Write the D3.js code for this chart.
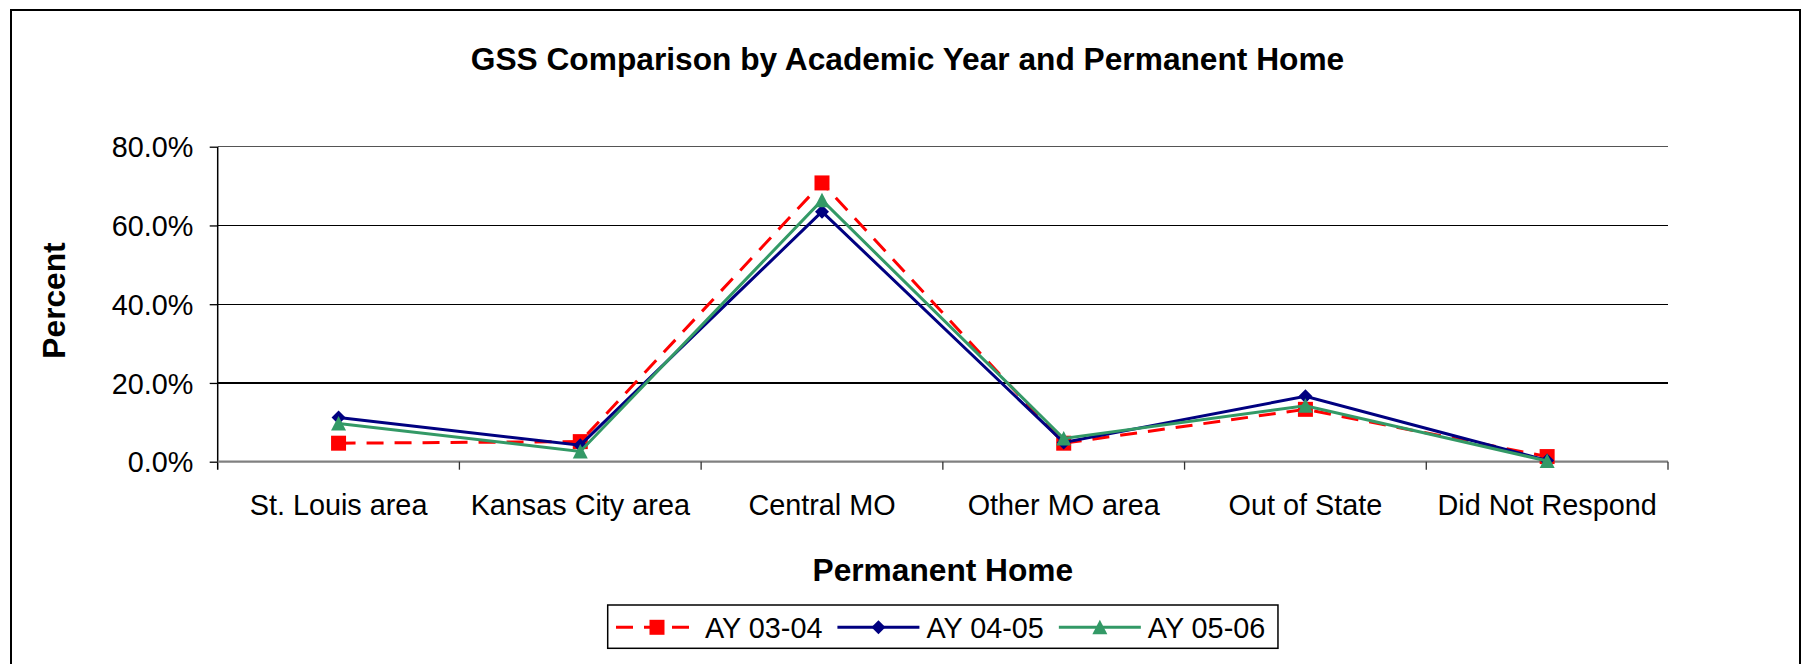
<!DOCTYPE html>
<meta charset="utf-8">
<style>

body {
  margin: 0;
  background: #fff;
}

svg text {
  font-family: "Liberation Sans", Arial, Helvetica, sans-serif;
  fill: #000;
}

.tick text, .cat-label, .legend text {
  font-size: 28.8px;
}

.axis-title {
  font-size: 31.7px;
  font-weight: bold;
}

.series path.line {
  fill: none;
  stroke-width: 3px;
}

</style>
<body>
<script src="https://d3js.org/d3.v7.min.js"></script>
<script>

// data
var categories = ["St. Louis area", "Kansas City area", "Central MO", "Other MO area", "Out of State", "Did Not Respond"];
var ay0304 = [0.047, 0.051, 0.708, 0.047, 0.133, 0.013];
var ay0405 = [0.112, 0.042, 0.635, 0.049, 0.166, 0.003];
var ay0506 = [0.097, 0.026, 0.664, 0.059, 0.142, 0.002];
var seriesNames = ["AY 03-04", "AY 04-05", "AY 05-06"];
var yTicks = [0, 0.2, 0.4, 0.6, 0.8];

var W = 1806, H = 664;
var plot = {left: 217.7, right: 1668, top: 146.7, bottom: 461.7};

var markers = {
  square: "M-7.5,-7.5h15v15h-15z",
  diamond: "M0,-7L7,0L0,7L-7,0Z",
  triangle: "M0,-7.5L7.5,7L-7.5,7Z"
};

var series = [
  {name: seriesNames[0], values: ay0304, color: "#ff0000", dash: "17,11", marker: "square"},
  {name: seriesNames[1], values: ay0405, color: "#000080", dash: null, marker: "diamond"},
  {name: seriesNames[2], values: ay0506, color: "#339966", dash: null, marker: "triangle"}
];

var svg = d3.select("body").append("svg")
    .attr("width", W)
    .attr("height", H);

// outer chart border
svg.append("rect")
    .attr("x", 11).attr("y", 10)
    .attr("width", 1789).attr("height", 700)
    .attr("fill", "none")
    .attr("stroke", "#000")
    .attr("stroke-width", 2);

var x = d3.scaleBand()
    .domain(categories)
    .range([plot.left, plot.right])
    .padding(0);

var y = d3.scaleLinear()
    .domain([0, 0.8])
    .range([plot.bottom, plot.top]);

function cx(c) { return x(c) + x.bandwidth() / 2; }

// gridlines
svg.append("g")
  .selectAll("line")
    .data(yTicks.filter(function(d) { return d > 0; }))
  .enter().append("line")
    .attr("x1", plot.left).attr("x2", plot.right)
    .attr("y1", function(d) { return y(d); })
    .attr("y2", function(d) { return y(d); })
    .attr("stroke", function(d) { return d == 0.8 ? "#555" : "#000"; })
    .attr("stroke-width", 1.3)
    .attr("shape-rendering", "crispEdges");

// y axis
var yAxis = svg.append("g")
    .attr("class", "axis")
    .attr("transform", "translate(" + plot.left + ",0)")
    .call(d3.axisLeft(y).tickValues(yTicks).tickFormat(d3.format(".1%")).tickSize(8).tickPadding(16.4));
yAxis.select(".domain").remove();
yAxis.selectAll(".tick line").attr("stroke", "#000").attr("stroke-width", 1.3);
yAxis.selectAll(".tick text").attr("font-family", null).attr("font-size", null).attr("dy", "0.35em");
svg.append("line")
    .attr("x1", plot.left).attr("x2", plot.left)
    .attr("y1", plot.top).attr("y2", plot.bottom + 8)
    .attr("stroke", "#000").attr("stroke-width", 1.5);

// x axis line, ticks between categories
svg.append("line")
    .attr("x1", plot.left).attr("x2", plot.right)
    .attr("y1", plot.bottom).attr("y2", plot.bottom)
    .attr("stroke", "#808080").attr("stroke-width", 2.2);

svg.append("g")
  .selectAll("line")
    .data(categories.slice(1).map(function(c) { return x(c); }).concat([plot.right]))
  .enter().append("line")
    .attr("x1", function(d) { return d; }).attr("x2", function(d) { return d; })
    .attr("y1", plot.bottom).attr("y2", plot.bottom + 8)
    .attr("stroke", "#333").attr("stroke-width", 1.3);

svg.append("g")
  .selectAll("text")
    .data(categories)
  .enter().append("text")
    .attr("class", "cat-label")
    .attr("x", cx)
    .attr("y", 514.5)
    .attr("text-anchor", "middle")
    .text(function(d) { return d; });

// titles
svg.append("text")
    .attr("class", "axis-title")
    .attr("x", 907.5).attr("y", 70)
    .attr("text-anchor", "middle")
    .text("GSS Comparison by Academic Year and Permanent Home");

svg.append("text")
    .attr("class", "axis-title")
    .attr("x", (plot.left + plot.right) / 2).attr("y", 581)
    .attr("text-anchor", "middle")
    .text("Permanent Home");

svg.append("text")
    .attr("class", "axis-title")
    .attr("transform", "translate(65,300.5) rotate(-90)")
    .attr("text-anchor", "middle")
    .text("Percent");

// series
var line = d3.line()
    .x(function(d, i) { return cx(categories[i]); })
    .y(function(d) { return y(d); });

var g = svg.selectAll(".series")
    .data(series)
  .enter().append("g")
    .attr("class", "series");

g.append("path")
    .attr("class", "line")
    .attr("d", function(s) { return line(s.values); })
    .attr("stroke", function(s) { return s.color; })
    .attr("stroke-dasharray", function(s) { return s.dash; });

g.each(function(s) {
  d3.select(this).selectAll(".mark")
      .data(s.values)
    .enter().append("path")
      .attr("class", "mark")
      .attr("d", markers[s.marker])
      .attr("fill", s.color)
      .attr("transform", function(d, i) { return "translate(" + cx(categories[i]) + "," + y(d) + ")"; });
});

// legend
var legend = svg.append("g").attr("class", "legend");
var legY = 627.3, lx = 616;
var box = legend.append("rect");
series.forEach(function(s) {
  legend.append("line")
      .attr("x1", lx).attr("x2", lx + 82)
      .attr("y1", legY).attr("y2", legY)
      .attr("stroke", s.color)
      .attr("stroke-width", 3)
      .attr("stroke-dasharray", s.dash);
  legend.append("path")
      .attr("d", markers[s.marker])
      .attr("fill", s.color)
      .attr("transform", "translate(" + (lx + 41) + "," + legY + ")");
  var t = legend.append("text")
      .attr("x", lx + 89)
      .attr("y", legY + 10.3)
      .text(s.name);
  lx = lx + 89 + t.node().getComputedTextLength() + 15;
});
box.attr("x", 607.7).attr("y", 605)
    .attr("width", lx - 15 + 12.7 - 607.7).attr("height", 43.3)
    .attr("fill", "#fff")
    .attr("stroke", "#000")
    .attr("stroke-width", 1.5);

</script>
